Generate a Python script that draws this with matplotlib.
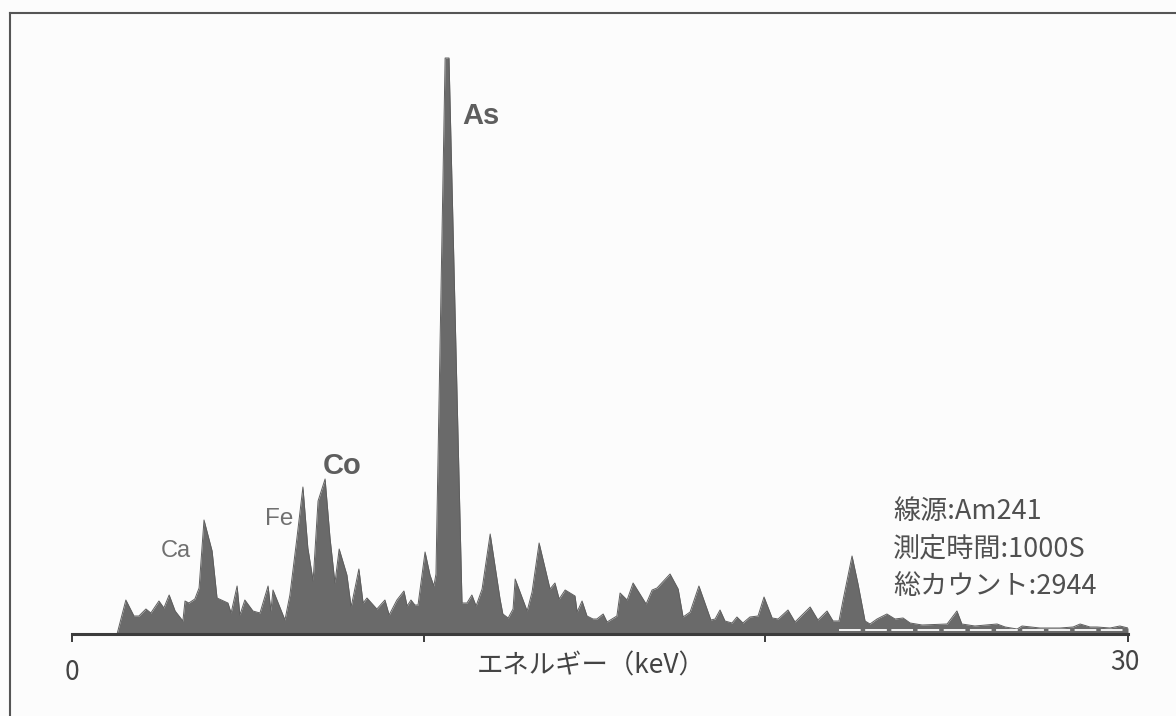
import matplotlib
matplotlib.use("Agg")
import matplotlib.pyplot as plt
from matplotlib.lines import Line2D

# ---- data (energy in keV, counts in arbitrary units) ----
energy = [1.28, 1.53, 1.76, 1.90, 2.10, 2.24, 2.47, 2.61, 2.76, 2.93, 3.15, 3.21, 3.32, 3.49,
          3.61, 3.75, 3.89, 3.98, 4.12, 4.43, 4.52, 4.69, 4.77, 4.91, 5.14, 5.34, 5.57, 5.65,
          5.71, 5.97, 6.05, 6.19, 6.39, 6.56, 6.70, 6.85, 6.99, 7.19, 7.33, 7.47, 7.59, 7.81,
          7.93, 8.15, 8.27, 8.38, 8.66, 8.89, 9.01, 9.23, 9.43, 9.52, 9.63, 9.74, 9.83, 10.03,
          10.17, 10.28, 10.34, 10.60, 10.71, 11.08, 11.22, 11.36, 11.48, 11.65, 11.88, 12.16,
          12.24, 12.39, 12.53, 12.59, 12.93, 13.07, 13.27, 13.58, 13.72, 13.84, 14.01, 14.29,
          14.35, 14.49, 14.63, 14.80, 14.91, 15.09, 15.20, 15.48, 15.57, 15.77, 15.94, 16.31,
          16.48, 16.62, 16.99, 17.22, 17.36, 17.56, 17.81, 18.04, 18.15, 18.27, 18.41, 18.55,
          18.75, 18.89, 19.06, 19.26, 19.49, 19.66, 19.89, 20.06, 20.34, 20.54, 20.97, 21.19,
          21.45, 21.62, 21.79, 21.90, 22.16, 22.33, 22.53, 22.67, 22.87, 23.15, 23.38, 23.61,
          23.81, 24.15, 24.86, 25.14, 25.28, 25.65, 26.28, 26.51, 26.85, 26.99, 27.50, 28.07,
          28.44, 28.64, 28.92, 29.12, 29.49, 29.77, 30.00]
counts = [0, 34, 18, 18, 25, 21, 33, 26, 39, 23, 13, 33, 31, 35,
          46, 114, 95, 83, 36, 31, 21, 48, 19, 34, 23, 21, 48, 23,
          44, 21, 14, 39, 96, 147, 86, 53, 133, 155, 96, 51, 85, 59,
          27, 65, 31, 36, 25, 34, 19, 34, 43, 28, 34, 29, 29, 82,
          59, 48, 60, 576, 576, 31, 31, 39, 28, 45, 100, 35,
          20, 16, 25, 55, 23, 42, 91, 45, 51, 35, 44, 38,
          22, 33, 18, 15, 15, 20, 12, 18, 41, 34, 51, 30,
          44, 46, 60, 45, 17, 22, 48, 25, 14, 15, 24, 13,
          11, 17, 11, 17, 18, 37, 16, 15, 24, 12, 27, 14,
          23, 13, 13, 33, 78, 50, 13, 10, 15, 20, 15, 16,
          11, 9, 10, 23, 10, 8, 10, 7, 5, 8, 6, 6,
          7, 10, 7, 7, 6, 8, 6]

baseline_energy = [21.8, 29.9]
baseline_level = [4, 4]

peak_labels = ["Ca", "Fe", "Co", "As"]
info_lines = ["線源:Am241", "測定時間:1000S", "総カウント:2944"]
x_label = "エネルギー（keV）"
tick_positions = [0, 10, 19.7, 30]
tick_texts = ["0", "30"]

W, H = 1176, 716
fig = plt.figure(figsize=(W / 100, H / 100), dpi=100)
fig.patch.set_facecolor("#fcfcfc")

ax = fig.add_axes([72 / W, 82 / H, 1056 / W, 594 / H])
ax.set_facecolor("none")
ax.set_xlim(0, 30)
ax.set_ylim(0, 594)

fill_col = "#6a6a6a"
ax.fill_between(energy, counts, 0, color=fill_col, lw=0, zorder=2)
ax.plot(energy, counts, color="#5e5e5e", lw=0.7, zorder=3)
ax.plot(baseline_energy, baseline_level, color="white", lw=1.3,
        ls=(0, (12, 2.5)), zorder=4)

for s in ["top", "right", "left"]:
    ax.spines[s].set_visible(False)
ax.spines["bottom"].set_color("#3c3c3c")
ax.spines["bottom"].set_linewidth(2.2)
ax.spines["bottom"].set_zorder(5)
ax.set_yticks([])
ax.set_xticks(tick_positions)
ax.set_xticklabels([])
ax.tick_params(axis="x", direction="out", length=6, width=1.4, color="#3c3c3c")

# tick labels
jp = ["Noto Sans CJK JP", "DejaVu Sans"]
fig.text(72 / W, 1 - 673 / H, tick_texts[0], ha="center", va="center",
         fontsize=19, color="#444444", family=jp)
fig.text(1125 / W, 1 - 662 / H, tick_texts[1], ha="center", va="center",
         fontsize=19, color="#444444", family=jp)
fig.text(591 / W, 1 - 666 / H, x_label, ha="center", va="center",
         fontsize=19, color="#444444", family=jp)

# peak labels
lab = ["Liberation Sans", "DejaVu Sans"]
ax.text(2.95, 83, peak_labels[0], ha="center", va="center", fontsize=17,
        color="#707070", family=lab)
ax.text(5.88, 115, peak_labels[1], ha="center", va="center", fontsize=17.5,
        color="#707070", family=lab)
ax.text(7.67, 168, peak_labels[2], ha="center", va="center", fontsize=21,
        color="#5e5e5e", family=lab, fontweight="bold")
ax.text(11.08, 518, peak_labels[3], ha="left", va="center", fontsize=21,
        color="#5e5e5e", family=lab, fontweight="bold")

for line, h in zip(info_lines, [123, 85, 47]):
    ax.text(23.32, h, line, ha="left", va="center", fontsize=19.5,
            color="#505050", family=jp)

# frame border (top + left)
fig.add_artist(Line2D([10 / W, 1.0], [1 - 13 / H, 1 - 13 / H],
                      transform=fig.transFigure, color="#555555", lw=1.5))
fig.add_artist(Line2D([10 / W, 10 / W], [0, 1 - 13 / H],
                      transform=fig.transFigure, color="#555555", lw=1.5))

fig.savefig("out.png", dpi=100, facecolor=fig.get_facecolor())
